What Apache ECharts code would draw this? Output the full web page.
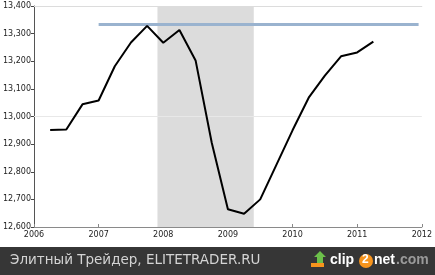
<!DOCTYPE html>
<html><head><meta charset="utf-8">
<script src="https://cdn.jsdelivr.net/npm/echarts@6/dist/echarts.min.js"></script>
<style>html,body{margin:0;padding:0;background:#fff}#c{width:435px;height:275px}</style>
</head><body><div id="c"></div>
<script>
const quarters = [2006.25,2006.5,2006.75,2007.0,2007.25,2007.5,2007.75,2008.0,2008.25,2008.5,2008.75,2009.0,2009.25,2009.5,2009.75,2010.0,2010.25,2010.5,2010.75,2011.0,2011.25];
const gdp = [12951,12953,13044,13058,13182,13268,13328,13267,13313,13203,12905,12664,12648,12700,12825,12950,13068,13148,13218,13232,13271];
const peakLevel = 13333;
const peakFrom = 2007.0, peakTo = 2011.95;
const recessionFrom = 2007.91, recessionTo = 2009.4;
const yearTicks = [2006,2007,2008,2009,2010,2011,2012];
const footerText = 'Элитный Трейдер, ELITETRADER.RU';

const chart = echarts.init(document.getElementById('c'), null, {renderer:'canvas'});
chart.setOption({
  animation:false,
  backgroundColor:'#ffffff',
  grid:{left:33, top:6, right:12, bottom:48},
  xAxis:[{type:'value', min:yearTicks[0], max:yearTicks[yearTicks.length-1], interval:1,
    axisLine:{lineStyle:{color:'#8a8a8a', width:1}},
    axisTick:{inside:true, length:3, lineStyle:{color:'#888'}},
    axisLabel:{color:'#222', fontFamily:'DejaVu Sans', fontSize:8, margin:4, formatter:v=>String(v)},
    splitLine:{show:false}},
   {type:'value', position:'top', min:yearTicks[0], max:yearTicks[yearTicks.length-1],
    axisLine:{show:true, lineStyle:{color:'#dcdcdc'}}, axisTick:{show:false}, axisLabel:{show:false}, splitLine:{show:false}}],
  yAxis:{type:'value', min:12600, max:13400, interval:100,
    axisLine:{show:true, lineStyle:{color:'#555', width:1}},
    axisTick:{show:true, length:3, lineStyle:{color:'#444'}},
    axisLabel:{color:'#222', fontFamily:'DejaVu Sans', fontSize:8, margin:3,
      formatter:v=>v.toLocaleString('en-US')},
    splitLine:{show:false}},
  series:[
    {type:'line', z:1, silent:true, symbol:'none', data:[[yearTicks[0],13000],[yearTicks[yearTicks.length-1],13000]],
     lineStyle:{color:'#e8e8e8', width:1}},
    {type:'line', z:2, silent:true, symbol:'none', data:[],
     markArea:{silent:true, itemStyle:{color:'#dcdcdc'}, data:[[{xAxis:recessionFrom},{xAxis:recessionTo}]]}},
    {type:'line', z:3, silent:true, symbol:'none', data:[[peakFrom,peakLevel],[peakTo,peakLevel]],
     lineStyle:{color:'#9ab3cf', width:3}},
    {type:'line', z:4, silent:true, symbol:'none', data:quarters.map((q,i)=>[q,gdp[i]]),
     lineStyle:{color:'#000', width:2}}
  ],
  graphic:[
    {type:'rect', left:0, top:247, shape:{width:435, height:28}, style:{fill:'#363636'}},
    {type:'text', left:10, top:253, style:{text:footerText, fill:'#d4d4d4', font:'13.5px "DejaVu Sans"'}},
    {type:'polygon', shape:{points:[[314,257],[320,251],[326,257],[323,257],[323,263],[317,263],[317,257]]}, style:{fill:'#6cc04a'}},
    {type:'rect', shape:{x:311,y:263,width:13,height:4}, style:{fill:'#f7941d'}},
    {type:'text', left:330, top:253, style:{text:'clip', fill:'#ffffff', font:'bold 14px "Liberation Sans"'}},
    {type:'circle', shape:{cx:366, cy:261, r:7}, style:{fill:'#f7941d'}},
    {type:'text', left:362, top:254, style:{text:'2', fill:'#ffffff', font:'bold 12px "Liberation Sans"'}},
    {type:'text', left:374, top:253, style:{text:'net', fill:'#ffffff', font:'bold 14px "Liberation Sans"'}},
    {type:'text', left:396, top:253, style:{text:'.com', fill:'#9a9a9a', font:'bold 14px "Liberation Sans"'}}
  ]
});
</script></body></html>
